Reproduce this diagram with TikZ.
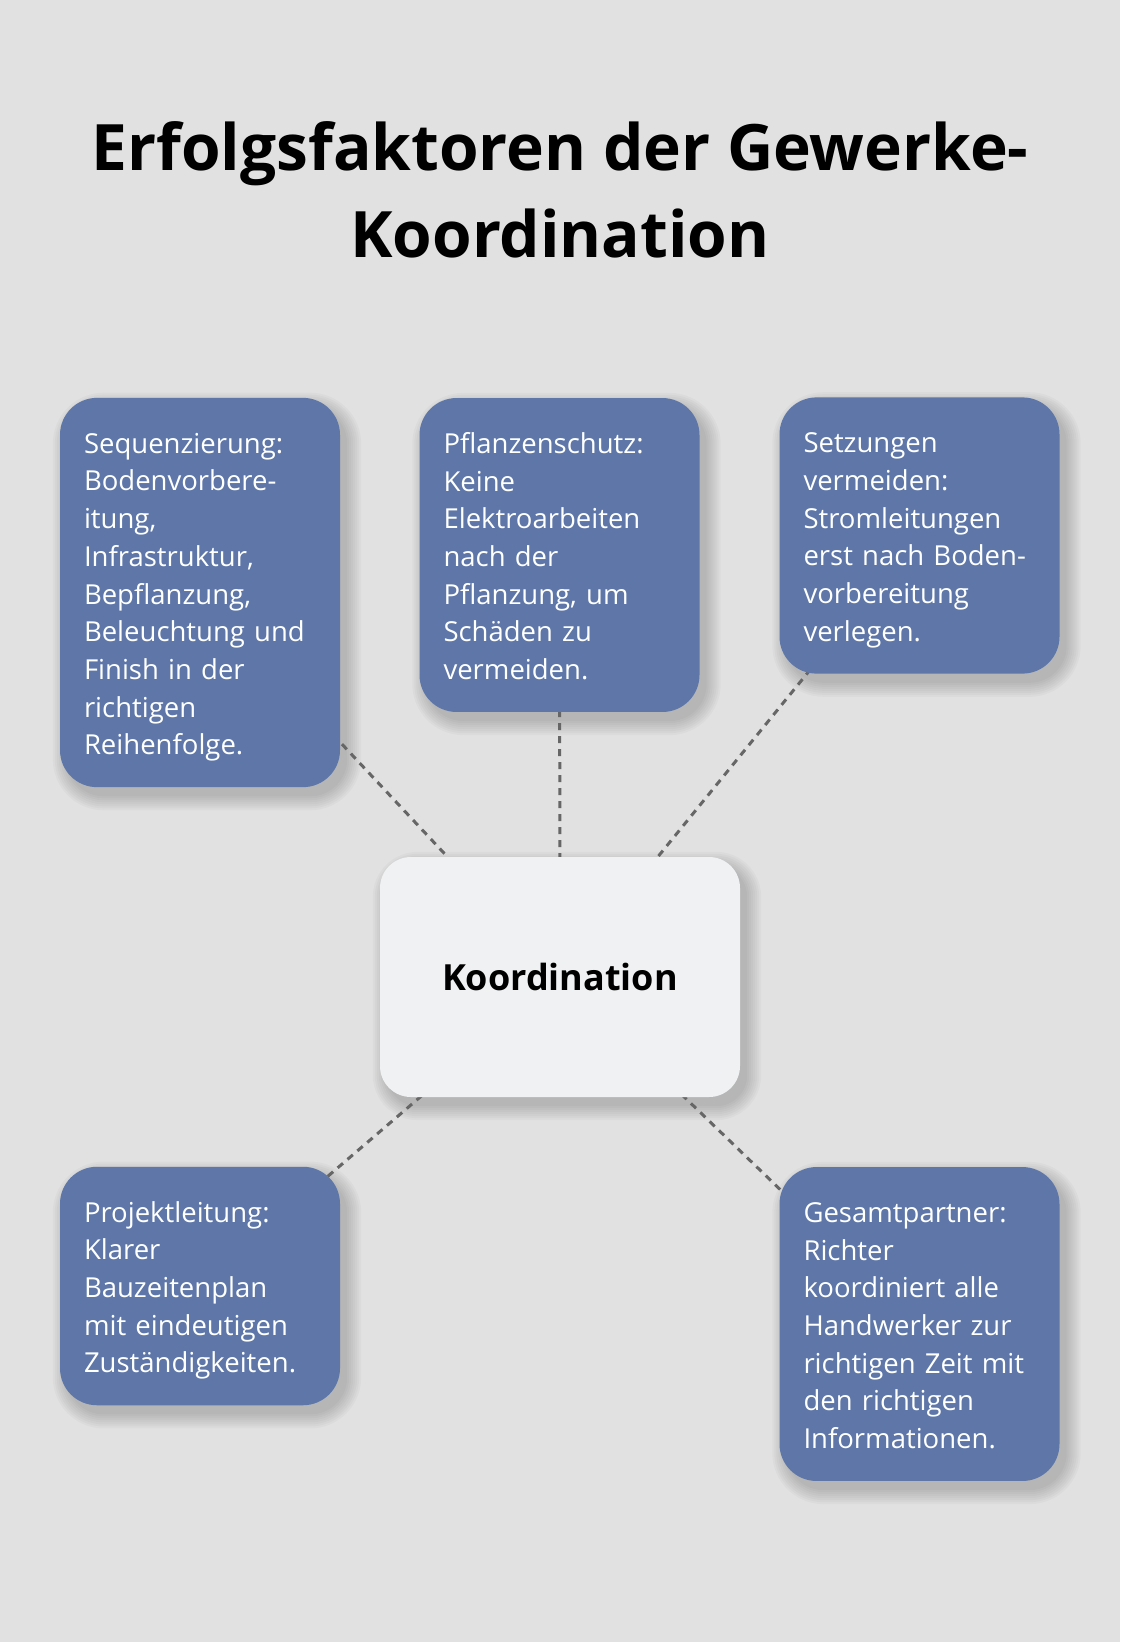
\documentclass[tikz,border=0pt]{standalone}
\usepackage{fontspec}
\setmainfont{Open Sans}
\usetikzlibrary{backgrounds,calc}
\definecolor{bgcol}{HTML}{E0E1E0}
\definecolor{boxblue}{HTML}{5E77A8}
\definecolor{centerfill}{HTML}{F0F1F2}
\definecolor{linegray}{HTML}{666666}
\begin{document}
\begin{tikzpicture}[x=1pt,y=-1pt,
  infobox/.style={fill=boxblue, text=white, rounded corners=37pt, text width=232pt,
    align=left, inner xsep=24pt, inner ysep=25pt,
    font=\fontsize{27.5}{37.7}\selectfont,
    execute at begin node={\rule{0pt}{30.4pt}},
    execute at end node={\rule[-7.3pt]{0pt}{7.3pt}}},
  centerbox/.style={fill=centerfill, text=black, rounded corners=31pt,
    minimum width=360pt, minimum height=240pt, inner sep=0pt,
    font=\bfseries\fontsize{36}{44}\selectfont},
  titletext/.style={align=center, inner sep=0pt, anchor=north,
    font=\bfseries\fontsize{64}{87}\selectfont,
    execute at begin node=\strut},
  conn/.style={draw=linegray, line width=3pt, dash pattern=on 7pt off 6pt}]
\useasboundingbox (0,0) rectangle (1120,1642);

\node[titletext] (title) at (560,121) {Erfolgsfaktoren der Gewerke-\\Koordination};

\node[centerbox] (c) at (560,977) {\raisebox{-3pt}{Koordination}};

\node[infobox] (b1) at (200,592.5) {Sequenzierung:\\Bodenvorbere-\\itung,\\Infrastruktur,\\Bepflanzung,\\Beleuchtung und\\Finish in der\\richtigen\\Reihenfolge.};
\node[infobox] (b2) at (559.5,555) {Pflanzenschutz:\\Keine\\Elektroarbeiten\\nach der\\Pflanzung, um\\Schäden zu\\vermeiden.};
\node[infobox] (b3) at (919.5,535.5) {Setzungen\\vermeiden:\\Stromleitungen\\erst nach Boden-\\vorbereitung\\verlegen.};
\node[infobox] (b4) at (200,1286) {Projektleitung:\\Klarer\\Bauzeitenplan\\mit eindeutigen\\Zuständigkeiten.};
\node[infobox] (b5) at (919.5,1324) {Gesamtpartner:\\Richter\\koordiniert alle\\Handwerker zur\\richtigen Zeit mit\\den richtigen\\Informationen.};

\begin{scope}[on background layer]
  \fill[bgcol] (0,0) rectangle (1120,1642);
  \foreach \n/\r in {b1/37,b2/37,b3/37,b4/37,b5/37,c/31} {
    \foreach \s in {0,2,...,14} {
      \fill[black, opacity=0.022, rounded corners=\r pt+\s pt]
        ($(\n.north west)+(7-\s,9-\s)$) rectangle ($(\n.south east)+(7+\s,9+\s)$);
    }
  }
  \draw[conn] (c.center) -- (b1.center);
  \draw[conn] (c.center) -- (b2.center);
  \draw[conn] (c.center) -- (b3.center);
  \draw[conn] (c.center) -- (b4.center);
  \draw[conn] (c.center) -- (b5.center);
\end{scope}
\end{tikzpicture}
\end{document}
